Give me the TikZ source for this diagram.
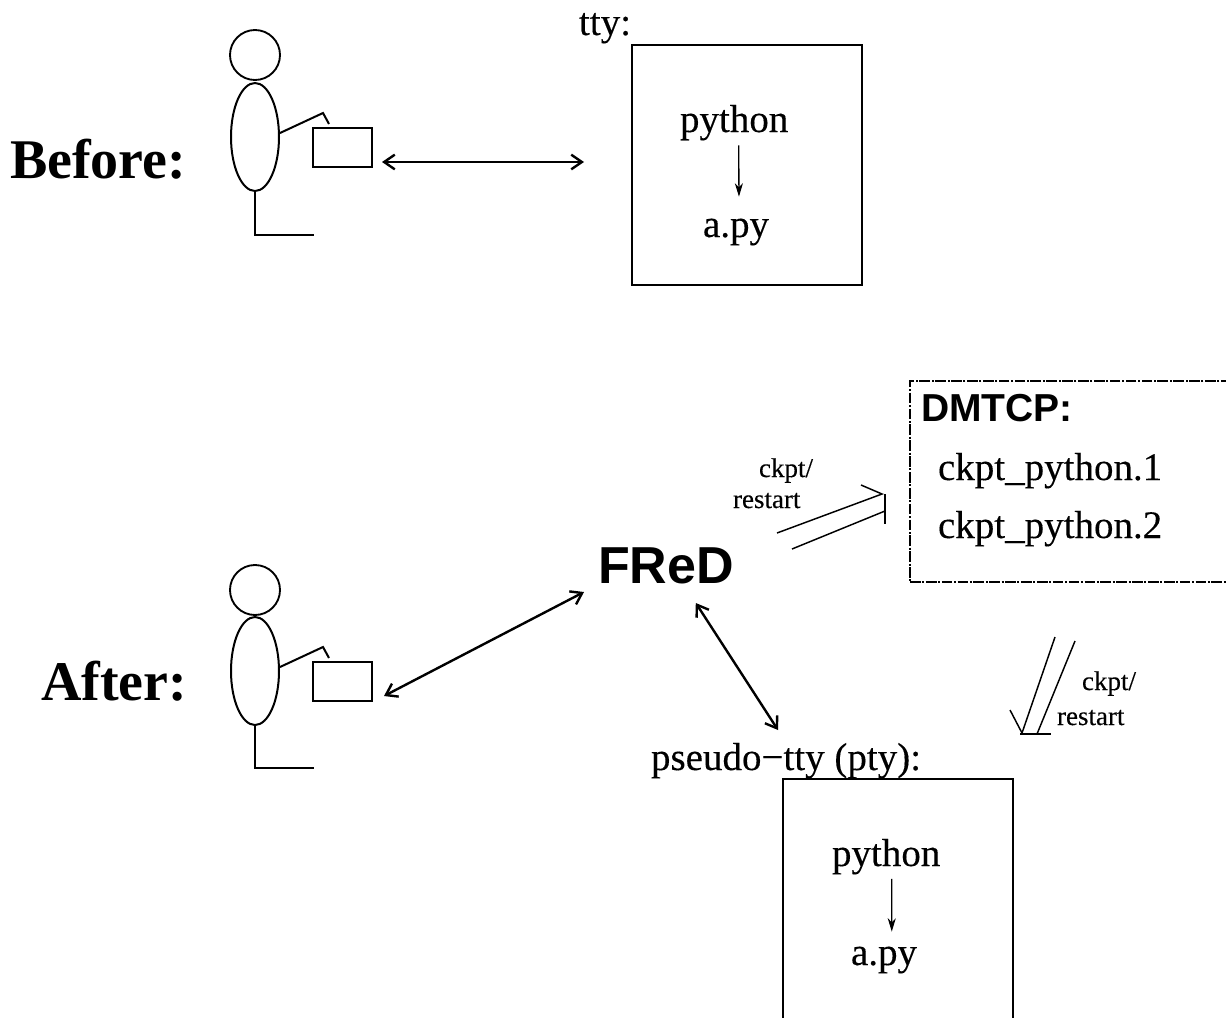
\documentclass[tikz,border=0pt]{standalone}
\usepackage{fontspec}
\setmainfont[FakeBold=0.25]{Liberation Serif}
\setsansfont{Liberation Sans}
\newfontfamily\boldserif{Liberation Serif Bold}
\usetikzlibrary{arrows.meta}
\newcommand{\pxfont}[1]{\fontsize{\dimexpr #1pt*3/4\relax}{\dimexpr #1pt*9/10\relax}\selectfont}
\tikzset{
  lbl/.style={anchor=base west,inner sep=0pt,outer sep=0pt,text=black},
  bigserif/.style={lbl,font=\pxfont{56}\boldserif},
  serif/.style={lbl,font=\pxfont{39}},
  tiny/.style={lbl,font=\pxfont{27}},
  heads/.style={lbl,font=\pxfont{39}\sffamily\bfseries},
  fredlbl/.style={lbl,font=\pxfont{52}\sffamily\bfseries},
  thing/.style={draw=black,line width=1.4pt,inner sep=0pt,outer sep=0pt},
  frame/.style={thing,line width=1.6pt},
  figure line/.style={draw=black,line width=1.5pt},
  dbl/.style={draw=black,line width=1.8pt,{Straight Barb[length=8pt,width=11pt,line width=1.8pt]}-{Straight Barb[length=8pt,width=11pt,line width=1.8pt]}},
  sgl/.style={draw=black,line width=1pt,-{Stealth[length=10pt,width=6pt,inset=3pt]}},
  half/.style={draw=black,line width=1.1pt},
  dashbox/.style={thing,line width=1.2pt,dash pattern=on 8pt off 1.2pt on 1.5pt off 1.2pt},
}
\begin{document}
\begin{tikzpicture}[x=0.75pt,y=-0.75pt]
\clip (0,0) rectangle (1226,1017);
\fill[white] (0,0) rectangle (1226,1017);

% Before
\node[bigserif] (before) at (10,178) {Before:};
\node[thing,circle,minimum size=37.5pt] (head1) at (255,55) {};
\draw[figure line] (255,137) ellipse [x radius=24,y radius=54];
\node[thing,minimum width=44.25pt,minimum height=29.25pt] (box1) at (342.5,147.5) {};
\coordinate (arm1a) at (280,133);
\coordinate (arm1b) at (323,113);
\coordinate (arm1c) at (329,124);
\draw[figure line] (arm1a) -- (arm1b) -- (arm1c);
\coordinate (leg1a) at (255,191);
\coordinate (leg1b) at (255,235);
\coordinate (leg1c) at (314,235);
\draw[figure line] (leg1a) -- (leg1b) -- (leg1c);
\node[serif] (tty) at (579,35) {tty:};
\node[frame,minimum width=172.5pt,minimum height=180pt] (ttybox) at (747,165) {};
\node[serif] (py1) at (680,132) {python};
\node[serif] (apy1) at (703,237) {a.py};
\draw[sgl] ([xshift=3.4pt,yshift=-3.8pt]py1.south) -- ([xshift=2.2pt,yshift=16.5pt]apy1.north);
\draw[dbl] ([xshift=7.5pt,yshift=-10.875pt]box1.east) -- ([xshift=-36pt,yshift=2.25pt]ttybox.west);

% After
\node[bigserif] (after) at (41,700) {After:};
\node[thing,circle,minimum size=37.5pt] (head2) at (255,590) {};
\draw[figure line] (255,671) ellipse [x radius=24,y radius=54];
\node[thing,minimum width=44.25pt,minimum height=29.25pt] (box2) at (342.5,681.5) {};
\coordinate (arm2a) at (280,667);
\coordinate (arm2b) at (323,647);
\coordinate (arm2c) at (329,658);
\draw[figure line] (arm2a) -- (arm2b) -- (arm2c);
\coordinate (leg2a) at (255,725);
\coordinate (leg2b) at (255,768);
\coordinate (leg2c) at (314,768);
\draw[figure line] (leg2a) -- (leg2b) -- (leg2c);

\node[fredlbl] (fred) at (598,583) {FReD};
\node[serif] (ptylbl) at (651,770) {pseudo−tty (pty):};
\node[frame,minimum width=172.5pt,minimum height=180pt] (ptybox) at (898,899) {};
\node[serif] (py2) at (832,866) {python};
\node[serif] (apy2) at (851,965) {a.py};
\draw[sgl] ([xshift=4.2pt,yshift=-3.4pt]py2.south) -- ([xshift=5.8pt,yshift=11.25pt]apy2.north);
\draw[dbl] ([xshift=9pt,yshift=-10.875pt]box2.east) -- ([xshift=-10.5pt,yshift=-6.75pt]fred.base west);
\draw[dbl] ([xshift=-28.5pt,yshift=-15pt]fred.base east) -- ([xshift=95.25pt,yshift=30pt]ptylbl.base west);

% DMTCP
\node[dashbox,minimum width=247.5pt,minimum height=150.75pt] (dmtcp) at (1075,481.5) {};
\node[heads] (dmtcplbl) at (921,421) {DMTCP:};
\node[serif] (ck1) at (938,480) {ckpt\_python.1};
\node[serif] (ck2) at (938,538) {ckpt\_python.2};

% ckpt/restart, upper pair
\node[tiny] (cka) at (759,477) {ckpt/};
\node[tiny] (rsa) at (733,508) {restart};
\coordinate (ua1) at (777,533);
\coordinate (ua2) at (882,494);
\coordinate (ua3) at (861,485);
\coordinate (ub1) at (792,549);
\coordinate (ub2) at (885,511);
\coordinate (ub3) at (885,494);
\coordinate (ub4) at (885,524);
\draw[half] (ua1) -- (ua2) -- (ua3);
\draw[half] (ub1) -- (ub2);
\draw[half] (ub3) -- (ub4);

% ckpt/restart, lower pair
\node[tiny] (ckb) at (1082,690) {ckpt/};
\node[tiny] (rsb) at (1057,725) {restart};
\coordinate (la1) at (1055,637);
\coordinate (la2) at (1022,733);
\coordinate (la3) at (1010,710);
\coordinate (lb1) at (1075,641);
\coordinate (lb2) at (1037,734);
\coordinate (lb3) at (1020,734);
\coordinate (lb4) at (1051,734);
\draw[half] (la1) -- (la2) -- (la3);
\draw[half] (lb1) -- (lb2);
\draw[half] (lb3) -- (lb4);
\end{tikzpicture}
\end{document}
